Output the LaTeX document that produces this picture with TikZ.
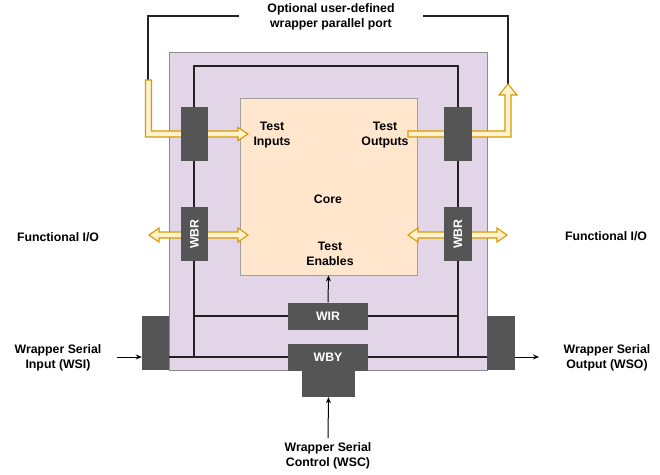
\documentclass[tikz,border=0pt]{standalone}
\usepackage{fontspec}
\setmainfont{Liberation Sans}
\usetikzlibrary{arrows.meta,calc}
\definecolor{purp}{HTML}{E1D5E7}
\definecolor{purpb}{HTML}{8C8C8C}
\definecolor{corefill}{HTML}{FFE6CC}
\definecolor{coreb}{HTML}{A0A0A0}
\definecolor{dark}{HTML}{555555}
\definecolor{ylw}{HTML}{D79B00}
\definecolor{ylwf}{HTML}{FFF2CC}
\definecolor{wire}{HTML}{222222}
\tikzset{
  darkbox/.style={fill=dark, draw=none, inner sep=0pt, text=white, font=\fontsize{12.3}{14}\selectfont\bfseries},
  lbl/.style={align=center, inner sep=0pt, font=\fontsize{12.3}{14.5}\selectfont\bfseries},
  wireline/.style={draw=wire, line width=1.3pt},
  flex/.style={draw=ylw, fill=ylwf, line width=1.1pt, line join=miter},
  arr/.style={draw=black, line width=1pt, -{Stealth[length=6pt,width=5pt]}}
}
\begin{document}
\begin{tikzpicture}[x=1pt,y=-1pt]
\useasboundingbox (0,0) rectangle (660,474);
% outer wrapper
\draw[fill=purp, draw=purpb, line width=0.8pt] (169,52) rectangle (487,370);
% wires
\coordinate (tl) at (194,66);
\coordinate (tr) at (458,66);
\coordinate (bl) at (194,357);
\coordinate (br) at (458,357);
\coordinate (ml) at (194,316);
\coordinate (mr) at (458,316);
\draw[wireline] (bl) -- (tl) -- (tr) -- (br);
% core
\node[draw=coreb, fill=corefill, line width=0.8pt, minimum width=177pt, minimum height=177pt, inner sep=0pt] (core) at (328.5,186.5) {};
\node[lbl] (coret) at (328,199) {Core};
\node[lbl] (ti) at (272,135) {Test\\Inputs};
\node[lbl] (to) at (385,135) {Test\\Outputs};
\node[lbl] (te) at (330,254) {Test\\Enables};
% port lines
\coordinate (pl1) at (239,16);
\coordinate (pl2) at (148,80);
\coordinate (pr1) at (423,16);
\coordinate (pr2) at (508,84);
\draw[wireline] (pl1) -| (pl2);
\draw[wireline] (pr1) -| (pr2);
\node[lbl] (port) at (331,17) {Optional user-defined\\wrapper parallel port};
% flex arrows
\draw[flex] (145.5,80) -- (145.5,137) -- (238,137) -- (238,140.5) -- (248,134) -- (238,127.5) -- (238,131) -- (151.5,131) -- (151.5,80) -- cycle;
\draw[flex] (408,131) -- (505,131) -- (505,95) -- (499,95) -- (508,84) -- (517,95) -- (511,95) -- (511,137) -- (408,137) -- cycle;
\draw[flex] (149,235) -- (159,228) -- (159,232) -- (238,232) -- (238,228) -- (248,235) -- (238,242) -- (238,238) -- (159,238) -- (159,242) -- cycle;
\draw[flex] (408,235) -- (418,228) -- (418,232) -- (497,232) -- (497,228) -- (507,235) -- (497,242) -- (497,238) -- (418,238) -- (418,242) -- cycle;
% WBR boxes
\node[darkbox, minimum width=27pt, minimum height=54pt] (wbr1) at (194.5,134) {};
\node[darkbox, minimum width=27pt, minimum height=54pt] (wbr2) at (194.5,234) {\rotatebox{90}{WBR}};
\node[darkbox, minimum width=28pt, minimum height=54pt] (wbr3) at (458,134) {};
\node[darkbox, minimum width=28pt, minimum height=54pt] (wbr4) at (458,234) {\rotatebox{90}{WBR}};
% WIR / WBY
\node[darkbox, minimum width=80pt, minimum height=27pt] (wir) at (328,316) {WIR};
\node[darkbox, minimum width=53pt, minimum height=41pt] (wbyl) at (328.5,376.5) {};
\node[darkbox, minimum width=80pt, minimum height=27pt] (wby) at (328,357) {WBY};
\draw[wireline] (ml) -- (ml -| wir.west);
\draw[wireline] (mr -| wir.east) -- (mr);
\draw[arr] (wir.north) -- (core.south);
% serial boxes
\node[darkbox, minimum width=27pt, minimum height=54pt] (sin) at (155.5,343) {};
\node[darkbox, minimum width=28pt, minimum height=54pt] (sout) at (501,343) {};
\draw[wireline] (sin.east |- bl) -- (wby.west |- bl);
\draw[wireline] (wby.east |- br) -- (sout.west |- br);
% labels and arrows
\node[lbl] (wsi) at (58,358) {Wrapper Serial\\Input (WSI)};
\node[lbl] (wso) at (607,358) {Wrapper Serial\\Output (WSO)};
\node[lbl] (wsc) at (328,456) {Wrapper Serial\\Control (WSC)};
\node[lbl] (fl) at (58,237) {Functional I/O};
\node[lbl] (fr) at (606,236) {Functional I/O};
\coordinate (wsia) at (117,357);
\coordinate (wsoa) at (539,357);
\coordinate (wsca) at (328,438);
\draw[arr] (wsia) -- (sin.west |- wsia);
\draw[arr] (sout.east |- wsoa) -- (wsoa);
\draw[arr] (wsca) -- (wbyl.south);
\end{tikzpicture}
\end{document}
